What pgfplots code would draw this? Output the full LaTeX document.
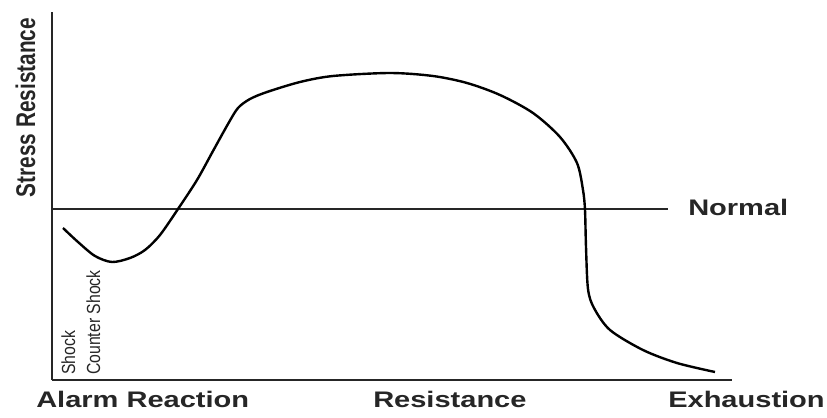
\documentclass[border=0pt]{standalone}
\usepackage{pgfplots}
\pgfplotsset{compat=1.18}
\usepackage{fontspec}
\setmainfont{Liberation Sans}
\begin{document}
\begin{tikzpicture}
\begin{axis}[
  x=1bp, y=1bp, scale only axis,
  xmin=52, xmax=732, ymin=37, ymax=405,
  axis x line=bottom, axis y line=left,
  axis line style={-, line width=2.2bp, black!85},
  xtick=\empty, ytick=\empty,
  clip=false,
]
\coordinate (bl) at (axis cs:0,0);
\coordinate (tr) at (axis cs:827,417);
% Normal level
\addplot[line width=1.5bp, black!85] coordinates {(52,208) (668,208)};
% Stress resistance curve (pixel x, 417 - pixel y)
\addplot[line width=2.4bp, black, smooth, tension=0.5] coordinates {
(63,189) (78,175) (95,161) (112,155) (130,159) (145,167) (160,182)
(178,208) (197,237) (213,266) (228,293) (238,309) (250,318) (267,325)
(300,335) (333,341) (390,344) (433,341) (467,334) (500,322) (533,304)
(560,280) (577,254) (583,227) (585,207) (586,170) (588,128) (594,109)
(610,87) (643,67) (677,54) (715,45)
};
\end{axis}
\pgfresetboundingbox
\path[use as bounding box] (bl) rectangle (tr);
\begin{scope}[x=1bp,y=1bp,shift={(bl)}]
\node[anchor=base west, inner sep=0, font=\bfseries\fontsize{22.5bp}{22.5bp}\selectfont, xscale=1.29, text=black!85] at (36,10) {Alarm Reaction};
\node[anchor=base west, inner sep=0, font=\bfseries\fontsize{22.5bp}{22.5bp}\selectfont, xscale=1.29, text=black!85] at (373,10) {Resistance};
\node[anchor=base west, inner sep=0, font=\bfseries\fontsize{22.5bp}{22.5bp}\selectfont, xscale=1.29, text=black!85] at (668,10) {Exhaustion};
\node[anchor=base west, inner sep=0, font=\bfseries\fontsize{22.5bp}{22.5bp}\selectfont, xscale=1.29, text=black!85] at (688,202) {Normal};
\node[anchor=base, inner sep=0, rotate=90, yscale=1.3, font=\bfseries\fontsize{20.8bp}{20.8bp}\selectfont, text=black!85] at (35,309.5) {Stress Resistance};
\node[anchor=base west, inner sep=0, rotate=90, yscale=1.2, font=\fontsize{15.8bp}{15.8bp}\selectfont, text=black!85] at (75,42) {Shock};
\node[anchor=base west, inner sep=0, rotate=90, yscale=1.2, font=\fontsize{15.8bp}{15.8bp}\selectfont, text=black!85] at (100,42) {Counter Shock};
\end{scope}
\end{tikzpicture}
\end{document}
